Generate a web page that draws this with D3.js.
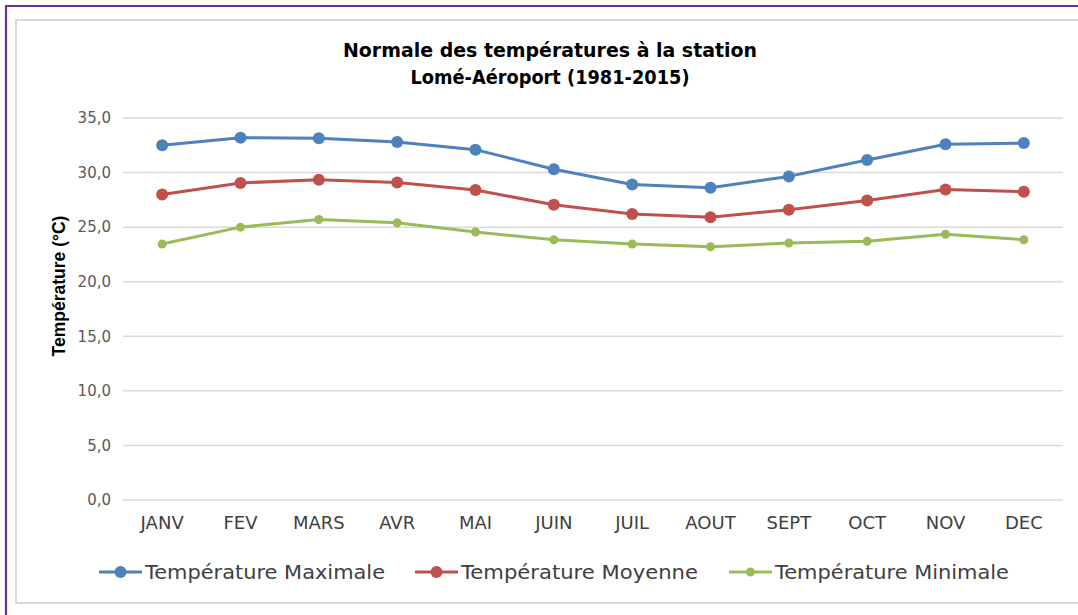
<!DOCTYPE html>
<html>
<head>
<meta charset="utf-8">
<script src="https://cdn.jsdelivr.net/npm/d3@7"></script>
<style>
  body { margin: 0; background: #fff; }
  svg { display: block; }
</style>
</head>
<body>
<div id="chart"></div>
<script>
// Data
const months = ['JANV', 'FEV', 'MARS', 'AVR', 'MAI', 'JUIN', 'JUIL', 'AOUT', 'SEPT', 'OCT', 'NOV', 'DEC'];
const tempMax = [32.5, 33.2, 33.15, 32.8, 32.1, 30.3, 28.9, 28.6, 29.65, 31.15, 32.6, 32.7];
const tempMoy = [28.0, 29.05, 29.35, 29.1, 28.4, 27.05, 26.2, 25.9, 26.6, 27.45, 28.45, 28.25];
const tempMin = [23.45, 25.0, 25.7, 25.4, 24.55, 23.85, 23.45, 23.2, 23.55, 23.7, 24.35, 23.85];
const yTicks = [0, 5, 10, 15, 20, 25, 30, 35];
const seriesNames = ['Température Maximale', 'Température Moyenne', 'Température Minimale'];

const series = [
    { name: seriesNames[0], values: tempMax, color: '#4f81bd', r: 6, textLen: 240 },
    { name: seriesNames[1], values: tempMoy, color: '#c0504d', r: 6, textLen: 237 },
    { name: seriesNames[2], values: tempMin, color: '#9bbb59', r: 4.5, textLen: 234 }
];

const width = 1078;
const height = 615;
const font = 'DejaVu Sans, sans-serif';

const svg = d3.select('#chart')
    .append('svg')
    .attr('width', width)
    .attr('height', height);

svg.append('rect')
    .attr('width', width)
    .attr('height', height)
    .attr('fill', '#fff');

// Outer purple frame (only top and left edges show)
svg.append('path')
    .attr('d', `M6,${height} V6 H${width}`)
    .attr('fill', 'none')
    .attr('stroke', '#7030a0')
    .attr('stroke-width', 2.2);

// Chart area border
svg.append('path')
    .attr('d', `M${width},20 H16 V603 H${width}`)
    .attr('fill', 'none')
    .attr('stroke', '#d9d9d9')
    .attr('stroke-width', 2);

// Scales
const x = d3.scaleBand()
    .domain(months)
    .range([123, 1063]);

const y = d3.scaleLinear()
    .domain([0, 35])
    .range([500, 118]);

// Gridlines
svg.append('g')
    .selectAll('line')
    .data(yTicks)
    .enter()
    .append('line')
    .attr('x1', 123)
    .attr('x2', 1063)
    .attr('y1', d => y(d))
    .attr('y2', d => y(d))
    .attr('stroke', '#d9d9d9')
    .attr('stroke-width', 1.5);

// Y axis labels
const yAxis = svg.append('g')
    .attr('transform', 'translate(111,0)')
    .call(d3.axisLeft(y).tickValues(yTicks).tickSize(0).tickPadding(0)
        .tickFormat(d => d3.format('.1f')(d).replace('.', ',')));
yAxis.select('.domain').remove();
yAxis.selectAll('text')
    .attr('font-family', font)
    .attr('font-size', '15px')
    .attr('fill', '#595959');

// X axis labels
const xAxis = svg.append('g')
    .attr('transform', 'translate(0,508)')
    .call(d3.axisBottom(x).tickSize(0).tickPadding(8));
xAxis.select('.domain').remove();
xAxis.selectAll('text')
    .attr('font-family', font)
    .attr('font-size', '18px')
    .attr('fill', '#404040');

// Lines and markers
const line = d3.line()
    .x((d, i) => x(months[i]) + x.bandwidth() / 2)
    .y(d => y(d));

series.forEach(s => {
    svg.append('path')
        .datum(s.values)
        .attr('d', line)
        .attr('fill', 'none')
        .attr('stroke', s.color)
        .attr('stroke-width', 3)
        .attr('stroke-linejoin', 'round');

    svg.append('g')
        .selectAll('circle')
        .data(s.values)
        .enter()
        .append('circle')
        .attr('cx', (d, i) => x(months[i]) + x.bandwidth() / 2)
        .attr('cy', d => y(d))
        .attr('r', s.r)
        .attr('fill', s.color);
});

// Title
const titleLines = [
    { text: 'Normale des températures à la station', y: 57, len: 414 },
    { text: 'Lomé-Aéroport (1981-2015)', y: 84, len: 279 }
];
titleLines.forEach(t => {
    svg.append('text')
        .attr('x', 550)
        .attr('y', t.y)
        .attr('text-anchor', 'middle')
        .attr('font-family', font)
        .attr('font-weight', 'bold')
        .attr('font-size', '19px')
        .attr('textLength', t.len)
        .attr('lengthAdjust', 'spacingAndGlyphs')
        .attr('fill', '#000')
        .text(t.text);
});

// Y axis title
svg.append('text')
    .attr('transform', 'translate(65,286) rotate(-90)')
    .attr('text-anchor', 'middle')
    .attr('font-family', 'Liberation Sans, Arial, sans-serif')
    .attr('font-weight', 'bold')
    .attr('font-size', '17.5px')
    .attr('fill', '#000')
    .text('Température (°C)');

// Legend
const legendX = [99, 415, 729];
const legend = svg.append('g')
    .attr('transform', 'translate(0,572)');

series.forEach((s, i) => {
    const row = legend.append('g')
        .attr('transform', `translate(${legendX[i]},0)`);
    row.append('line')
        .attr('x1', 0)
        .attr('x2', 43)
        .attr('stroke', s.color)
        .attr('stroke-width', 3);
    row.append('circle')
        .attr('cx', 21.5)
        .attr('r', s.r)
        .attr('fill', s.color);
    row.append('text')
        .attr('x', 46)
        .attr('y', 6.5)
        .attr('font-family', font)
        .attr('font-size', '19px')
        .attr('textLength', s.textLen)
        .attr('lengthAdjust', 'spacingAndGlyphs')
        .attr('fill', '#404040')
        .text(s.name);
});
</script>
</body>
</html>
